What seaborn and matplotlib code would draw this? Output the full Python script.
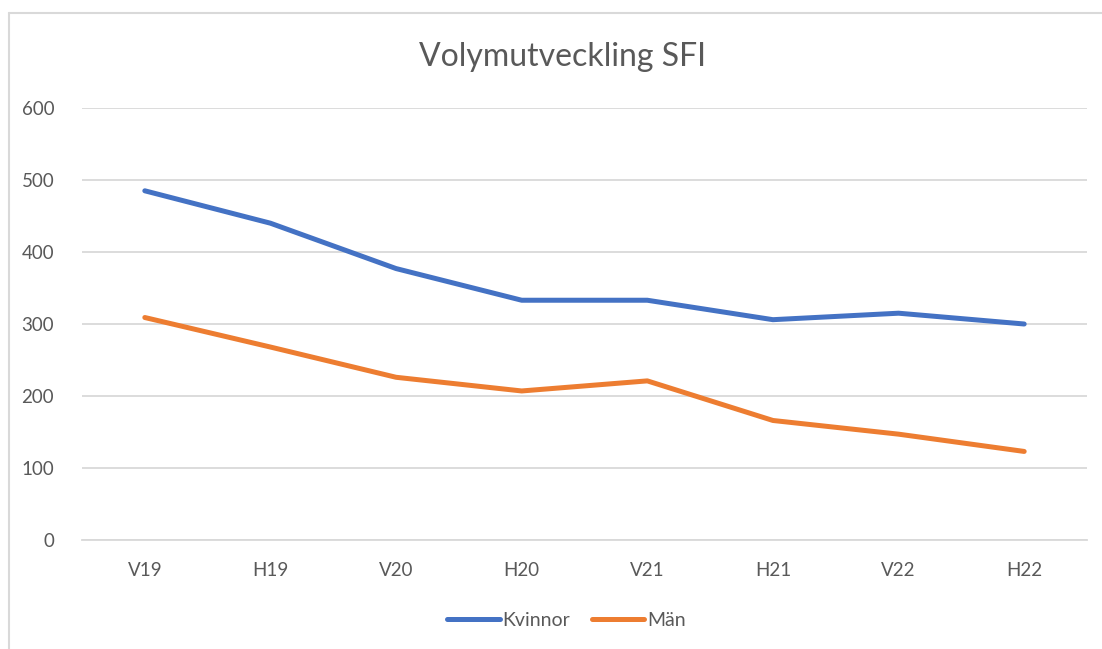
"""Volymutveckling SFI - line chart."""

import matplotlib

matplotlib.use("Agg")
import matplotlib.pyplot as plt
import pandas as pd
import seaborn as sns
from matplotlib.lines import Line2D

terms = ["V19", "H19", "V20", "H20", "V21", "H21", "V22", "H22"]
kvinnor = [485, 440, 377, 333, 333, 306, 315, 300]
man = [309, 268, 226, 207, 221, 166, 147, 123]
series_names = ["Kvinnor", "Män"]
yticks = [0, 100, 200, 300, 400, 500, 600]

TEXT = "#595959"
GRID = "#D9D9D9"
COLORS = {"Kvinnor": "#4472C4", "Män": "#ED7D31"}

sns.set_style("white")
plt.rcParams["font.family"] = ["Lato", "DejaVu Sans"]

df = pd.DataFrame(
    {
        "term": terms * 2,
        "value": kvinnor + man,
        "serie": [series_names[0]] * len(terms) + [series_names[1]] * len(terms),
    }
)

fig = plt.figure(figsize=(11.02, 6.49), dpi=100)
ax = fig.add_axes([82 / 1102, 1 - 540 / 649, (1087 - 82) / 1102, (540 - 108) / 649])

sns.lineplot(
    data=df,
    x="term",
    y="value",
    hue="serie",
    palette=COLORS,
    linewidth=3.6,
    sort=False,
    legend=False,
    ax=ax,
    solid_capstyle="round",
    solid_joinstyle="round",
)

ax.set_xlim(-0.5, len(terms) - 0.5)
ax.set_ylim(0, 600)
ax.set_yticks(yticks)
ax.yaxis.grid(True, color=GRID, linewidth=1.3)
ax.set_axisbelow(True)
for side in ["top", "right", "left"]:
    ax.spines[side].set_visible(False)
ax.spines["bottom"].set_color(GRID)
ax.spines["bottom"].set_linewidth(1.3)
ax.tick_params(axis="both", length=0, labelsize=13.5, labelcolor=TEXT)
ax.tick_params(axis="y", pad=20)
ax.tick_params(axis="x", pad=16)
ax.set_xlabel("")
ax.set_ylabel("")

fig.text(0.510, 1 - 57 / 649, "Volymutveckling SFI", ha="center", va="center",
         fontsize=23, color=TEXT)

handles = [
    Line2D([], [], color=COLORS[n], linewidth=3.6, solid_capstyle="round")
    for n in series_names
]
fig.legend(
    handles,
    series_names,
    loc="center",
    bbox_to_anchor=(0.514, 1 - 620 / 649),
    ncol=2,
    frameon=False,
    fontsize=14,
    labelcolor=TEXT,
    handlelength=2.7,
    handletextpad=0.15,
    columnspacing=1.1,
)

# chart frame
fig.add_artist(Line2D([9 / 1102, 9 / 1102], [0, 1 - 13 / 649], color=GRID,
                      linewidth=1.5, transform=fig.transFigure))
fig.add_artist(Line2D([9 / 1102, 1], [1 - 13 / 649, 1 - 13 / 649], color=GRID,
                      linewidth=1.5, transform=fig.transFigure))

fig.savefig("out.png", dpi=100)
